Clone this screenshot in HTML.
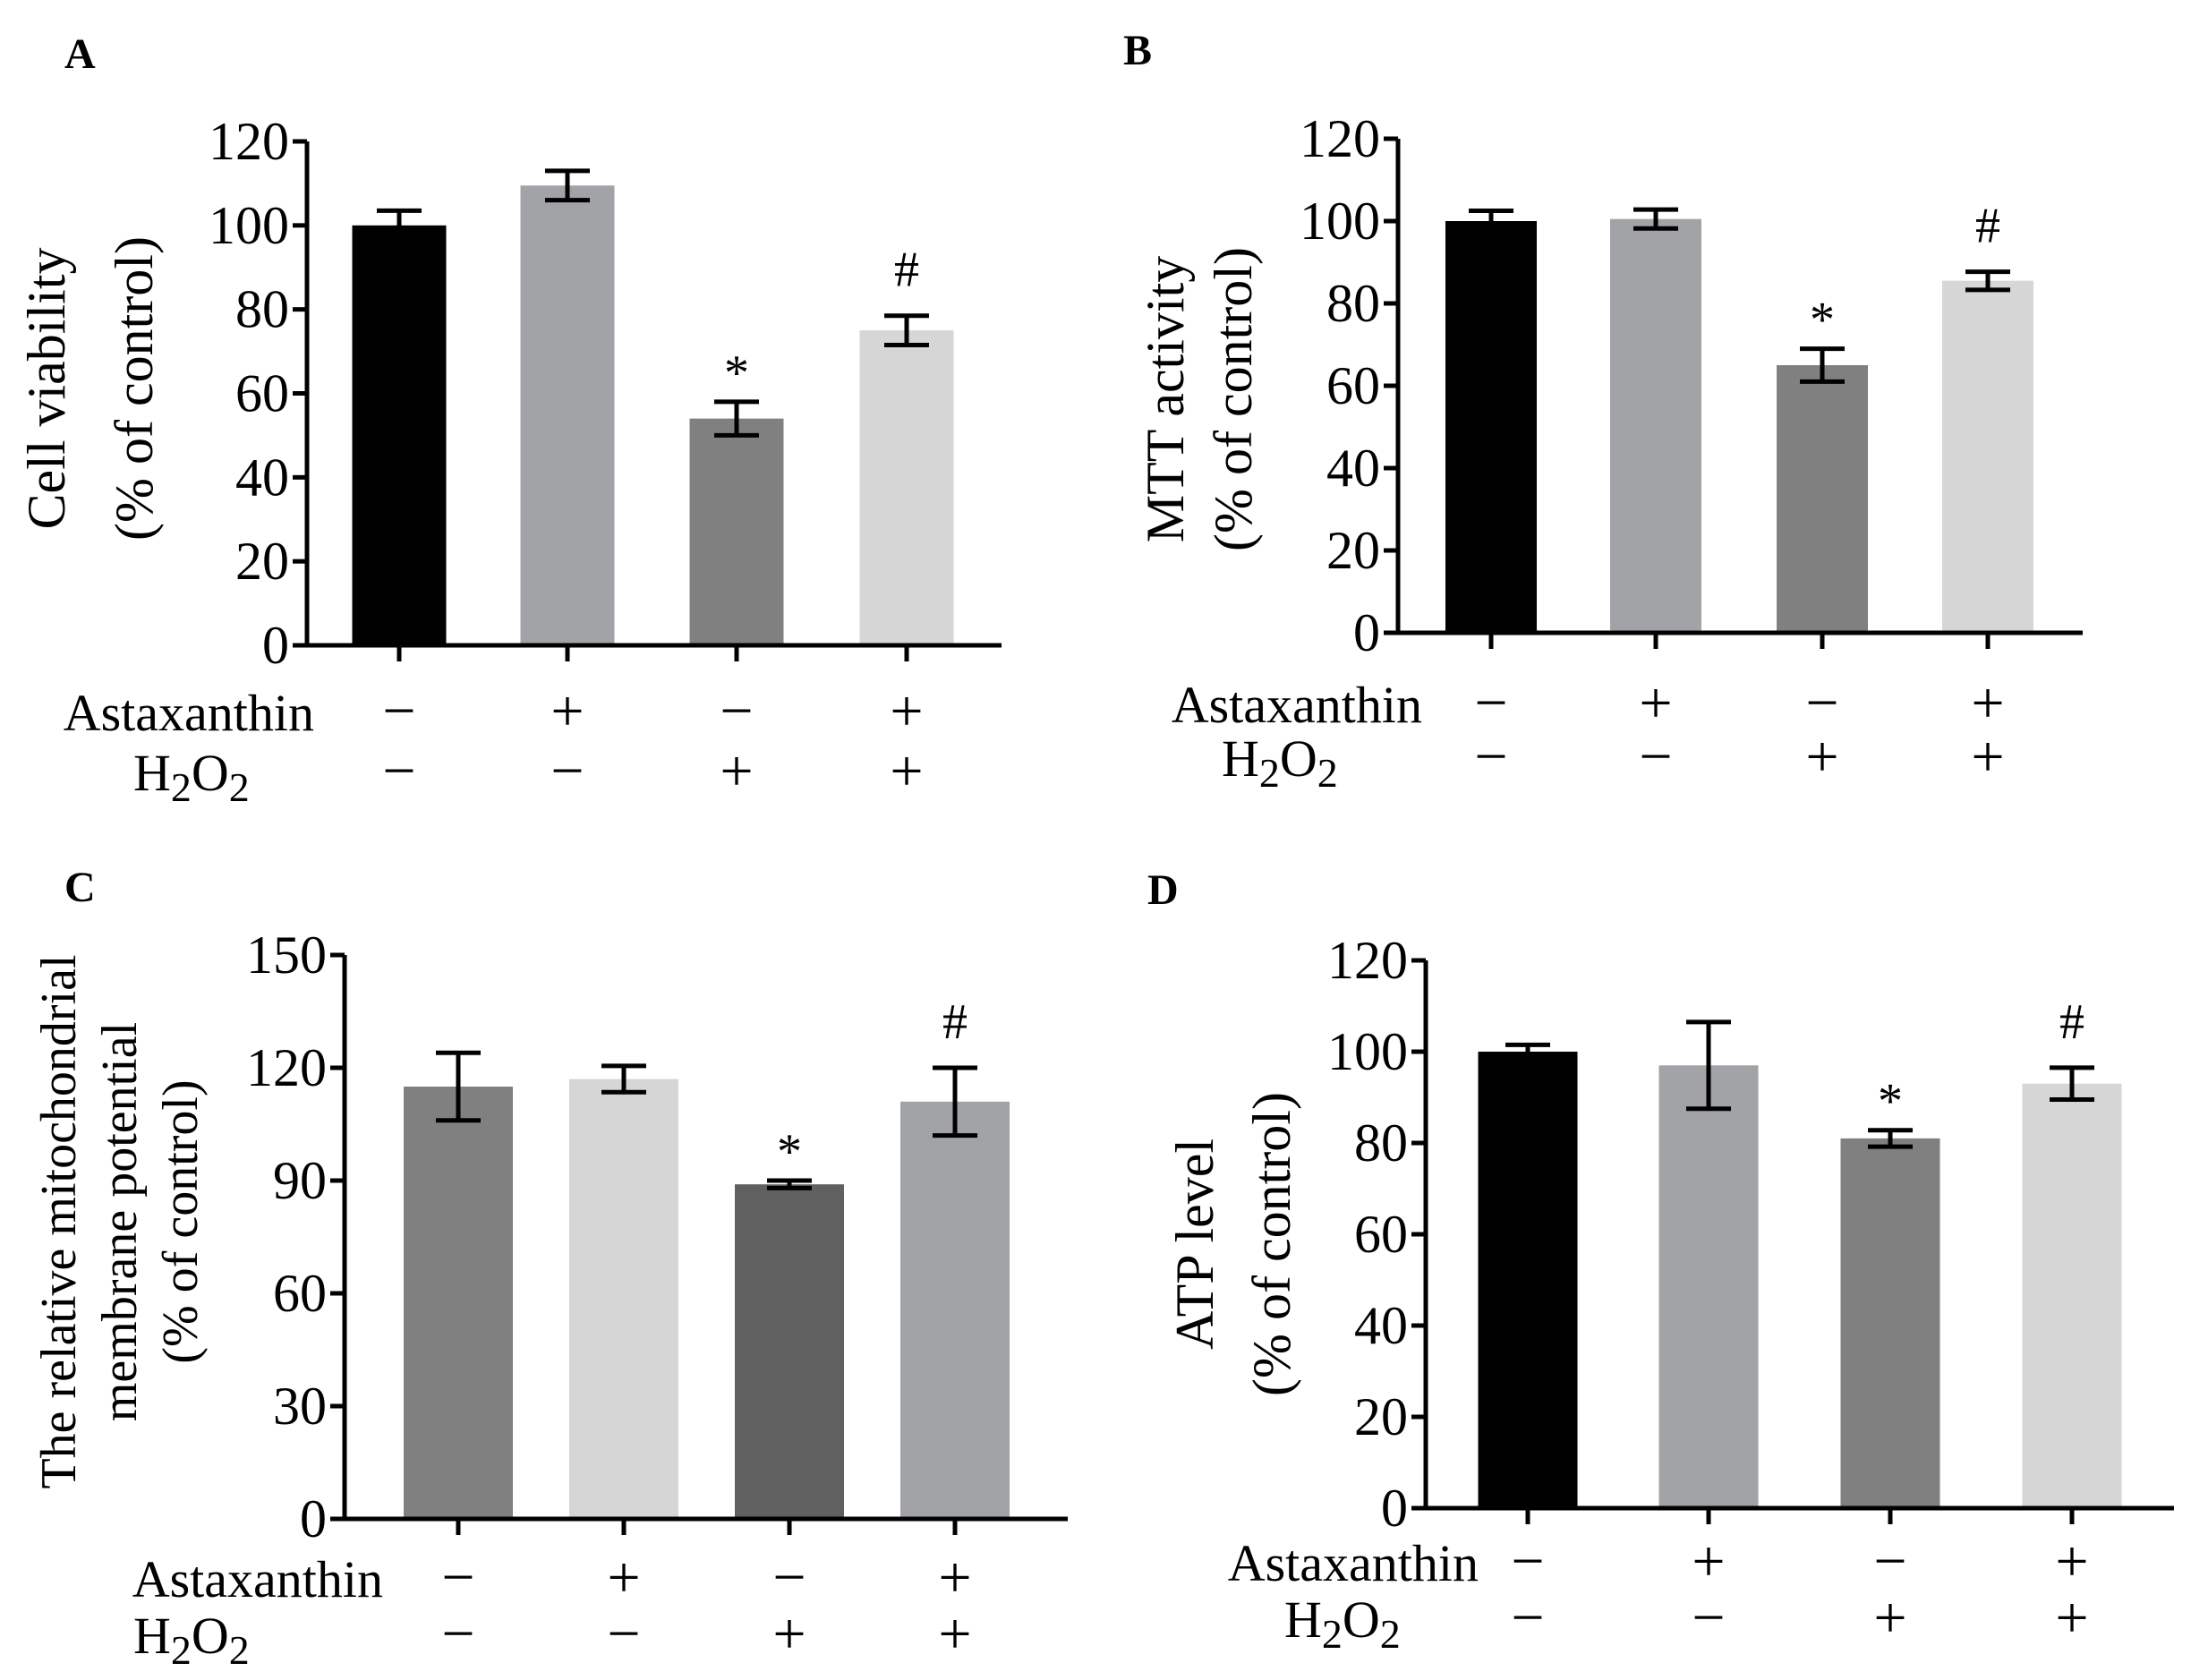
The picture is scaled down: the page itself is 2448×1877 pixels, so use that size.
<!DOCTYPE html>
<html><head><meta charset="utf-8"><style>
html,body{margin:0;padding:0;background:#fff;}
svg{display:block;font-family:"Liberation Serif",serif;}
</style></head><body>
<svg id="fig" width="2448" height="1877" viewBox="0 0 2448 1877"></svg>
<script>
const groupsAstax=['−','+','−','+'];
const groupsH2O2=['−','−','+','+'];
const valuesA=[100,109.5,54,75];
const errA=[3.5,3.5,4,3.5];
const valuesB=[100,100.5,65,85.5];
const errB=[2.5,2.3,4,2.2];
const valuesC=[115,117,89,111];
const errC=[9,3.5,1,9];
const valuesD=[100,97,81,93];
const errD=[1.5,9.5,1.8,3.5];
const ticksA=[0,20,40,60,80,100,120];
const ticksC=[0,30,60,90,120,150];
const marksABD=['','','*','#'];

const NS='http://www.w3.org/2000/svg';
const svg=document.getElementById('fig');
function el(tag,attrs,parent,text){const e=document.createElementNS(NS,tag);for(const k in attrs)e.setAttribute(k,attrs[k]);if(text!==undefined)e.textContent=text;(parent||svg).appendChild(e);return e;}

function panel(p){
  const g=el('g',{});
  
  
  const yS=v=>p.y0-(v-0)/(p.ymax)*(p.y0-p.yTop);
  const lt=el('text',{x:p.lx,y:p.ly,'font-size':48,'font-weight':'bold'},g,p.id);
  
  
  p.values.forEach((v,i)=>{
    const cx=p.cx[i];
    const r=el('rect',{x:cx-p.bw/2,y:yS(v),width:p.bw,height:p.y0-yS(v),fill:p.colors[i]},g);
    
    
    const hi=yS(v+p.err[i]),lo=yS(v-p.err[i]);
    const eg=el('g',{stroke:'#000','stroke-width':5},g);
    
    
    el('line',{x1:cx,x2:cx,y1:hi,y2:lo},eg);
    el('line',{x1:cx-25,x2:cx+25,y1:hi,y2:hi},eg);
    el('line',{x1:cx-25,x2:cx+25,y1:lo,y2:lo},eg);
    const m=p.marks[i];
    if(m){
      const t=el('text',{x:cx,y:hi-(m==='*'?14:33),'font-size':56,'text-anchor':'middle'},g,m);
      
      
    }
    const tk=el('line',{x1:cx,x2:cx,y1:p.y0,y2:p.y0+18,stroke:'#000','stroke-width':5},g);
    
    
    const s1=el('text',{x:cx,y:p.r1,'font-size':66,'text-anchor':'middle'},g,groupsAstax[i]);
    
    
    const s2=el('text',{x:cx,y:p.r2,'font-size':66,'text-anchor':'middle'},g,groupsH2O2[i]);
    
    
  });
  const ax=el('path',{d:`M${p.ax},${p.yTop} V${p.y0} H${p.xEnd}`,fill:'none',stroke:'#000','stroke-width':5},g);
  
  
  p.ticks.forEach(t=>{
    const y=yS(t);
    el('line',{x1:p.ax-16,x2:p.ax,y1:y,y2:y,stroke:'#000','stroke-width':5},g);
    const tl=el('text',{x:p.ax-20,y:y+20,'font-size':60,'text-anchor':'end'},g,t);
    
    
  });
  const rl=el('text',{x:p.rlx,y:p.r1,'font-size':58,'text-anchor':'end'},g,'Astaxanthin');
  
  
  const hl=el('text',{x:p.rlx2,y:p.r2,'font-size':58,'text-anchor':'start'},g);
  
  
  el('tspan',{},hl,'H');el('tspan',{dy:12,'font-size':46},hl,'2');el('tspan',{dy:-12},hl,'O');el('tspan',{dy:12,'font-size':46},hl,'2');
  const yt=el('text',{transform:`translate(${p.tx},${p.ty}) rotate(-90)`,'font-size':p.tfs||60,'text-anchor':'middle'},g);
  
  
  p.title.forEach((line,k)=>el('tspan',{x:0,y:k*p.lh},yt,line));
}
const c4=['#000000','#a2a3a6','#808080','#d6d6d6'];
panel({id:'A',lx:72,ly:76,ax:343,yTop:158,y0:721,xEnd:1119,ymax:120,ticks:ticksA,cx:[446,634,823,1013],bw:105,
  values:valuesA,err:errA,colors:c4,marks:marksABD,r1:816,r2:883,rlx:351,rlx2:149,
  title:['Cell viability','(% of control)'],tx:72,ty:434,lh:98});
panel({id:'B',lx:1255,ly:72,ax:1562,yTop:155,y0:707,xEnd:2327,ymax:120,ticks:ticksA,cx:[1666,1850,2036,2221],bw:102,
  values:valuesB,err:errB,colors:c4,marks:marksABD,r1:807,r2:867,rlx:1589,rlx2:1365,
  title:['MTT activity','(% of control)'],tx:1322,ty:446,lh:76});
panel({id:'C',lx:72,ly:1007,ax:385,yTop:1067,y0:1697,xEnd:1193,ymax:150,ticks:ticksC,cx:[512,697,882,1067],bw:122,
  values:valuesC,err:errC,colors:['#808080','#d6d6d6','#606060','#a2a3a6'],marks:marksABD,r1:1784,r2:1847,rlx:428,rlx2:149,
  title:['The relative mitochondrial','membrane potential','(% of control)'],tx:84,ty:1365,lh:68,tfs:56});
panel({id:'D',lx:1282,ly:1010,ax:1593,yTop:1073,y0:1685,xEnd:2429,ymax:120,ticks:ticksA,cx:[1707,1909,2112,2315],bw:111,
  values:valuesD,err:errD,colors:c4,marks:marksABD,r1:1766,r2:1829,rlx:1652,rlx2:1435,
  title:['ATP level','(% of control)'],tx:1355,ty:1390,lh:86});
</script>
</body></html>
